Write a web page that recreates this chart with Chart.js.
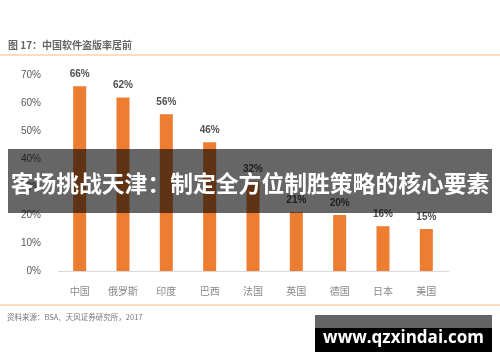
<!DOCTYPE html>
<html>
<head>
<meta charset="utf-8">
<script src="https://cdn.jsdelivr.net/npm/chart.js@4.4.0/dist/chart.umd.min.js"></script>
<style>
  body { margin: 0; background: #fff; font-family: "Noto Sans CJK SC", sans-serif; }
  #wrap { position: relative; width: 500px; height: 362px; overflow: hidden; }
  canvas { position: absolute; left: 0; top: 0; }
  .title { position: absolute; left: 8px; top: 37px; font-size: 10px; font-weight: bold; color: #666; }
  .rule { position: absolute; left: 0; width: 500px; height: 2px; background: #fcdcc0; }
  .source { position: absolute; left: 7px; top: 311px; font-size: 7.5px; color: #777; }
  .band { position: absolute; left: 8px; top: 149px; width: 484px; height: 64px; background: rgba(0,0,0,0.6); }
  .band span { position: absolute; left: -10px; width: 504px; top: 20px; text-align: center; color: #fff; font-size: 22.8px; font-weight: bold; line-height: 28px; white-space: nowrap; }
  .mark { position: absolute; left: 315px; top: 315px; width: 177px; height: 37px;
          background: linear-gradient(#646464 0, #646464 13px, #000 13px); }
  .mark span { position: absolute; left: 0; width: 177px; top: 11px; text-align: center; color: #fff;
               font-family: "Open Sans", sans-serif; font-weight: bold; font-size: 17px; line-height: 22px; }
</style>
</head>
<body>
<div id="wrap">
  <canvas id="chart" width="500" height="362"></canvas>
  <div class="title">图 17：中国软件盗版率居前</div>
  <div class="rule" style="top:54px"></div>
  <div class="rule" style="top:304px"></div>
  <div class="source">资料来源：BSA、天风证券研究所，2017</div>
  <div class="band"><span>客场挑战天津：制定全方位制胜策略的核心要素</span></div>
  <div class="mark"><span>www.qzxindai.com</span></div>
</div>
<script>
// data
const countries = ['中国', '俄罗斯', '印度', '巴西', '法国', '英国', '德国', '日本', '美国'];
const piracyRate = [66, 62, 56, 46, 32, 21, 20, 16, 15];
const yTicks = [0, 10, 20, 30, 40, 50, 60, 70];

const barLabels = {
  id: 'barLabels',
  afterDatasetsDraw(chart) {
    const ctx = chart.ctx;
    const meta = chart.getDatasetMeta(0);
    ctx.save();
    ctx.font = 'bold 10px "Liberation Sans", Arial, sans-serif';
    ctx.fillStyle = '#505050';
    ctx.textAlign = 'center';
    ctx.textBaseline = 'middle';
    meta.data.forEach((bar, i) => {
      ctx.fillText(piracyRate[i] + '%', bar.x, bar.y - 12);
    });
    ctx.restore();
  }
};

new Chart(document.getElementById('chart'), {
  type: 'bar',
  data: {
    labels: countries,
    datasets: [{
      data: piracyRate,
      backgroundColor: '#ED7D31',
      categoryPercentage: 1,
      barPercentage: 0.3
    }]
  },
  options: {
    responsive: false,
    animation: false,
    layout: { padding: { left: 0, top: 75, right: 52, bottom: 66 } },
    plugins: { legend: { display: false }, tooltip: { enabled: false } },
    scales: {
      x: {
        grid: { display: false },
        border: { display: true, color: '#d9d9d9', width: 1 },
        ticks: { color: '#888', padding: 6, font: { size: 10, family: '"Noto Sans CJK SC", sans-serif' } },
        afterFit: s => { s.height = 25; }
      },
      y: {
        min: 0,
        max: 70,
        afterBuildTicks: s => { s.ticks = yTicks.map(v => ({ value: v })); },
        grid: { display: false },
        border: { display: false },
        ticks: {
          color: '#595959',
          padding: 9,
          font: { size: 10, family: '"Liberation Sans", Arial, sans-serif' },
          callback: v => v + '%'
        },
        afterFit: s => { s.width = 58; }
      }
    }
  },
  plugins: [barLabels]
});
</script>
</body>
</html>
